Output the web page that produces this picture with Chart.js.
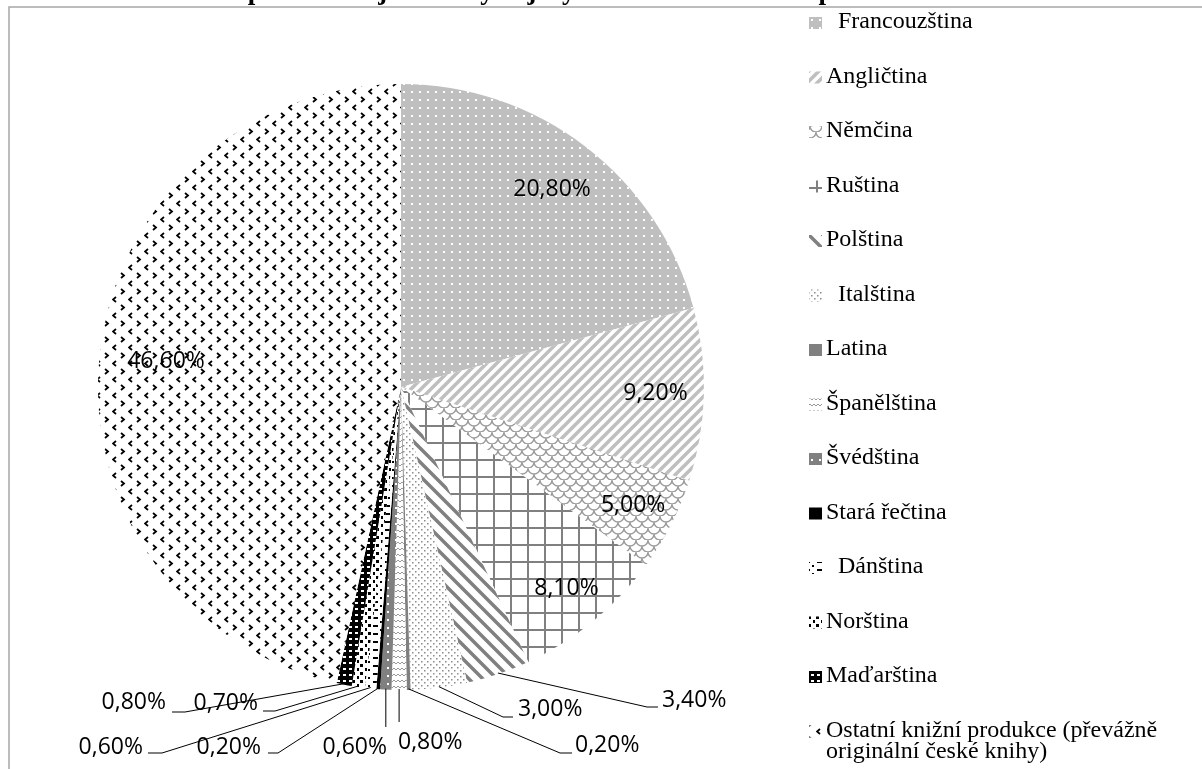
<!DOCTYPE html>
<html>
<head>
<meta charset="utf-8">
<script src="https://cdn.jsdelivr.net/npm/chart.js@4.4.0/dist/chart.umd.min.js"></script>
<style>
  html, body { margin: 0; padding: 0; background: white; }
</style>
</head>
<body>
<canvas id="graf" width="1202" height="769"></canvas>
<script>
// data
const nazev = 'Podíl překladů z jednotlivých jazyků na celkové knižní produkci';
const jazyky = [' Francouzština', 'Angličtina', 'Němčina', 'Ruština', 'Polština', ' Italština', 'Latina',
    'Španělština', 'Švédština', 'Stará řečtina', ' Dánština', 'Norština', 'Maďarština',
    'Ostatní knižní produkce (převážně originální české knihy)'];
const podily = [20.8, 9.2, 5.0, 8.1, 3.4, 3.0, 0.2, 0.8, 0.6, 0.2, 0.6, 0.7, 0.8, 46.6];

const canvas = document.getElementById('graf');
const ctx0 = canvas.getContext('2d');

function vzor(w, h, kresli) {
    const c = document.createElement('canvas');
    c.width = w;
    c.height = h;
    const g = c.getContext('2d');
    kresli(g, w, h);
    return ctx0.createPattern(c, 'repeat');
}

function cary(g, barva, sirka, body) {
    g.strokeStyle = barva;
    g.lineWidth = sirka;
    g.beginPath();
    body.forEach(b => { g.moveTo(b[0], b[1]); g.lineTo(b[2], b[3]); });
    g.stroke();
}

// vzory vyplne pro jednotlive vysece
const vyplne = [
    vzor(8, 8, (g) => { g.fillStyle = '#bfbfbf'; g.fillRect(0, 0, 8, 8); g.fillStyle = '#fff'; g.fillRect(3, 3, 2, 2); }),
    vzor(10, 10, (g) => { g.fillStyle = '#fff'; g.fillRect(0, 0, 10, 10);
        cary(g, '#bfbfbf', 3.5, [[0, 10, 10, 0], [-5, 5, 5, -5], [5, 15, 15, 5]]); }),
    vzor(12, 12, (g) => { g.fillStyle = '#fff'; g.fillRect(0, 0, 12, 12);
        g.strokeStyle = '#9a9a9a'; g.lineWidth = 1.3; g.beginPath();
        g.arc(6, 0, 6, 0, Math.PI);
        g.moveTo(6, 6); g.arc(0, 6, 6, 0, Math.PI);
        g.moveTo(18, 6); g.arc(12, 6, 6, 0, Math.PI);
        g.stroke(); }),
    vzor(17, 17, (g) => { g.fillStyle = '#fff'; g.fillRect(0, 0, 17, 17); g.fillStyle = '#808080';
        g.fillRect(0, 0, 17, 2); g.fillRect(0, 0, 2, 17); }),
    vzor(14, 14, (g) => { g.fillStyle = '#fff'; g.fillRect(0, 0, 14, 14);
        cary(g, '#808080', 3.5, [[0, 0, 14, 14], [-7, 7, 7, 21], [7, -7, 21, 7]]); }),
    vzor(6, 6, (g) => { g.fillStyle = '#fff'; g.fillRect(0, 0, 6, 6); g.fillStyle = '#8c8c8c';
        g.fillRect(1, 1, 1.5, 1.5); g.fillRect(4, 4, 1.5, 1.5); }),
    '#808080',
    vzor(8, 6, (g) => { g.fillStyle = '#fff'; g.fillRect(0, 0, 8, 6);
        g.strokeStyle = '#999'; g.lineWidth = 1; g.beginPath();
        g.moveTo(0, 4); g.lineTo(2, 2); g.lineTo(4, 4); g.lineTo(6, 2); g.lineTo(8, 4); g.stroke(); }),
    vzor(8, 8, (g) => { g.fillStyle = '#808080'; g.fillRect(0, 0, 8, 8); g.fillStyle = '#fff'; g.fillRect(3, 3, 2, 2); }),
    '#000000',
    vzor(12, 8, (g) => { g.fillStyle = '#fff'; g.fillRect(0, 0, 12, 8); g.fillStyle = '#000';
        g.fillRect(1, 1, 5, 2); g.fillRect(8, 5, 2, 2); }),
    vzor(8, 8, (g) => { g.fillStyle = '#fff'; g.fillRect(0, 0, 8, 8); g.fillStyle = '#000';
        g.fillRect(0, 0, 3, 3); g.fillRect(5, 4, 2, 3); }),
    vzor(6, 6, (g) => { g.fillStyle = '#000'; g.fillRect(0, 0, 6, 6); g.fillStyle = '#fff'; g.fillRect(1, 2, 3, 2); }),
    vzor(16, 16, (g) => { g.fillStyle = '#fff'; g.fillRect(0, 0, 16, 16);
        g.strokeStyle = '#000'; g.lineWidth = 1.8; g.beginPath();
        g.moveTo(9, 1); g.lineTo(12, 3.5); g.lineTo(9, 6);
        g.moveTo(4, 9); g.lineTo(1, 11.5); g.lineTo(4, 14); g.stroke(); })
];

// umisteni popisku (uvnitr: podil polomeru, vne: pozice textu a vodici cary)
const vnitrni = {0: 0.82, 1: 0.84, 2: 0.86, 3: 0.86, 13: 0.78};
const vnejsi = {
    4: {lom: [647, 707], konec: 658, tx: 662, ty: 700, zarovnani: 'left'},
    5: {lom: [503, 717], konec: 513, tx: 518, ty: 709, zarovnani: 'left'},
    6: {lom: [560, 753], konec: 572, tx: 575, ty: 745, zarovnani: 'left'},
    7: {svisle: 722, tx: 398, ty: 742, zarovnani: 'left'},
    8: {svisle: 727, tx: 387, ty: 747, zarovnani: 'right'},
    9: {lom: [278, 753], konec: 268, tx: 261, ty: 747, zarovnani: 'right'},
    10: {lom: [162, 753], konec: 148, tx: 143, ty: 747, zarovnani: 'right'},
    11: {lom: [275, 711], konec: 263, tx: 258, ty: 703, zarovnani: 'right'},
    12: {lom: [185, 712], konec: 172, tx: 166, ty: 702, zarovnani: 'right'}
};

const ramecek = {
    id: 'ramecek',
    beforeDraw: (chart) => {
        const ctx = chart.ctx;
        ctx.save();
        ctx.fillStyle = 'white';
        ctx.fillRect(0, 0, chart.width, chart.height);
        ctx.strokeStyle = '#a6a6a6';
        ctx.lineWidth = 1.5;
        ctx.strokeRect(9, 7, chart.width + 20, chart.height + 20);
        // nazev je z vetsi casti nad okrajem obrazku
        ctx.fillStyle = '#000';
        ctx.font = 'bold 27px "Liberation Serif"';
        ctx.textAlign = 'center';
        ctx.textBaseline = 'alphabetic';
        ctx.fillText(nazev, 552, -1);
        ctx.restore();
    }
};

const popisky = {
    id: 'popisky',
    afterDatasetsDraw: (chart) => {
        const ctx = chart.ctx;
        const oblouky = chart.getDatasetMeta(0).data;
        ctx.save();
        ctx.font = '23px "Open Sans"';
        ctx.fillStyle = '#000';
        ctx.strokeStyle = '#000';
        ctx.lineWidth = 1;
        ctx.textBaseline = 'middle';
        oblouky.forEach((arc, i) => {
            const p = arc.getProps(['x', 'y', 'startAngle', 'endAngle', 'outerRadius'], true);
            const uhel = (p.startAngle + p.endAngle) / 2;
            const text = podily[i].toFixed(2).replace('.', ',') + '%';
            const v = vnejsi[i];
            if (!v) {
                const d = p.outerRadius * (vnitrni[i] || 0.82);
                ctx.textAlign = 'center';
                ctx.fillText(text, p.x + Math.cos(uhel) * d, p.y + Math.sin(uhel) * d);
                return;
            }
            const sx = p.x + Math.cos(uhel) * (p.outerRadius - 1);
            const sy = p.y + Math.sin(uhel) * (p.outerRadius - 1);
            ctx.beginPath();
            ctx.moveTo(sx, sy);
            if (v.svisle) {
                ctx.lineTo(sx, v.svisle);
            } else {
                ctx.lineTo(v.lom[0], v.lom[1]);
                ctx.lineTo(v.konec, v.lom[1]);
            }
            ctx.stroke();
            ctx.textAlign = v.zarovnani;
            ctx.fillText(text, v.tx, v.ty);
        });
        ctx.restore();
    }
};

const legenda = {
    id: 'legenda',
    afterDraw: (chart) => {
        const ctx = chart.ctx;
        ctx.save();
        ctx.font = '24px "Liberation Serif"';
        ctx.textBaseline = 'alphabetic';
        ctx.textAlign = 'left';
        jazyky.forEach((jazyk, i) => {
            const y = 28 + i * 54.5;
            ctx.fillStyle = vyplne[i];
            ctx.fillRect(809, y - 11, 13, 12);
            ctx.fillStyle = '#000';
            // zalomeni dlouheho textu
            const slova = jazyk.split(' ');
            let radek = '', r = 0;
            slova.forEach((s) => {
                const zkus = radek === '' && s !== '' ? s : radek + ' ' + s;
                if (ctx.measureText(zkus).width > 370 && radek.trim() !== '') {
                    ctx.fillText(radek, 826, y + r * 21);
                    radek = s;
                    r++;
                } else {
                    radek = zkus;
                }
            });
            ctx.fillText(radek, 826, y + r * 21);
        });
        ctx.restore();
    }
};

new Chart(canvas, {
    type: 'pie',
    plugins: [ramecek, popisky, legenda],
    data: {
        labels: jazyky,
        datasets: [{
            data: podily,
            backgroundColor: vyplne,
            borderWidth: 0
        }]
    },
    options: {
        responsive: false,
        devicePixelRatio: 1,
        animation: false,
        events: [],
        layout: {
            padding: {left: 98, right: 498, top: 84, bottom: 79}
        },
        plugins: {
            legend: {display: false},
            tooltip: {enabled: false},
            title: {display: false}
        }
    }
});
</script>
</body>
</html>
